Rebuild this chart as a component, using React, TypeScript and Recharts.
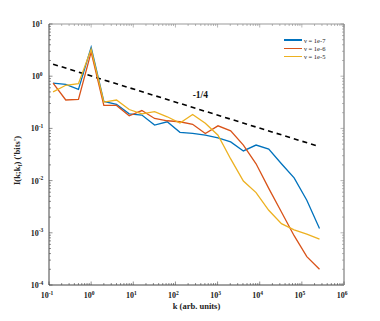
import React from 'react';
import { LineChart, Line, XAxis, YAxis, ReferenceDot } from 'recharts';

const kValues = [0.125, 0.25, 0.5, 1, 2, 4, 8, 16, 32, 64, 128, 256, 512, 1024, 2048, 4096, 8192, 16384, 32768, 65536, 131072, 262144];
const nu7 = [0.74, 0.7, 0.56, 3.6, 0.33, 0.29, 0.19, 0.18, 0.116, 0.134, 0.084, 0.08, 0.074, 0.066, 0.055, 0.037, 0.048, 0.04, 0.021, 0.0113, 0.0042, 0.00121];
const nu6 = [0.74, 0.35, 0.36, 2.9, 0.275, 0.275, 0.174, 0.22, 0.155, 0.14, 0.134, 0.12, 0.08, 0.112, 0.09, 0.048, 0.021, 0.0071, 0.0025, 0.00088, 0.00035, 0.0002];
const nu5 = [0.5, 0.67, 0.72, 3.3, 0.32, 0.35, 0.23, 0.19, 0.21, 0.167, 0.127, 0.185, 0.125, 0.074, 0.026, 0.0098, 0.0059, 0.0027, 0.0015, 0.00114, 0.00094, 0.00076];

// reference slope -1/4, two end points
const slopeK = [0.125, 262144];
const slopeI = [1.7, 0.0447];

const xDecades = [-1, 0, 1, 2, 3, 4, 5, 6];
const yDecades = [-4, -3, -2, -1, 0, 1];

const seriesNames = ['ν = 1e-7', 'ν = 1e-6', 'ν = 1e-5'];
const colors = ['#0072BD', '#D95319', '#EDB120'];

const FONT = '"Liberation Serif", "DejaVu Serif", serif';

const data = kValues.map((k, i) => ({ k, a: nu7[i], b: nu6[i], c: nu5[i] }));
const slopeData = slopeK.map((k, i) => ({ k, v: slopeI[i] }));

const logTicks = (decades: number[]) => {
  const out: number[] = [];
  decades.forEach((d, i) => {
    const base = Math.pow(10, d);
    out.push(base);
    if (i < decades.length - 1) {
      for (let m = 2; m <= 9; m++) out.push(m * base);
    }
  });
  return out;
};
const xTicks = logTicks(xDecades);
const yTicks = logTicks(yDecades);

const isMajor = (v: number) => Math.abs(Math.log10(v) - Math.round(Math.log10(v))) < 1e-6;

const BottomTick = (props: any) => {
  const { x, y, payload } = props;
  const major = isMajor(payload.value);
  const e = Math.round(Math.log10(payload.value));
  return (
    <g>
      <line x1={x} x2={x} y1={y} y2={y - (major ? 3.5 : 2)} stroke="#444" strokeWidth={0.6} />
      {major && (
        <text x={x - 2} y={y + 13} textAnchor="middle" fontFamily={FONT} fontSize={8} fontWeight="bold" fill="#222">
          10<tspan dy={-3.5} fontSize={5.5}>{e}</tspan>
        </text>
      )}
    </g>
  );
};

const TopTick = (props: any) => {
  const { x, y, payload } = props;
  const major = isMajor(payload.value);
  return <line x1={x} x2={x} y1={y} y2={y + (major ? 3.5 : 2)} stroke="#888" strokeWidth={0.6} />;
};

const LeftTick = (props: any) => {
  const { x, y, payload } = props;
  const major = isMajor(payload.value);
  const e = Math.round(Math.log10(payload.value));
  return (
    <g>
      <line x1={x} x2={x + (major ? 3.5 : 2)} y1={y} y2={y} stroke="#444" strokeWidth={0.6} />
      {major && (
        <text x={x - 12} y={y + 3} textAnchor="middle" fontFamily={FONT} fontSize={8} fontWeight="bold" fill="#222">
          10<tspan dy={-3.5} fontSize={5.5}>{e}</tspan>
        </text>
      )}
    </g>
  );
};

const RightTick = (props: any) => {
  const { x, y, payload } = props;
  const major = isMajor(payload.value);
  return <line x1={x} x2={x - (major ? 3.5 : 2)} y1={y} y2={y} stroke="#888" strokeWidth={0.6} />;
};

const YTitle = (props: any) => {
  const { viewBox } = props;
  const cx = viewBox.x + 11;
  const cy = viewBox.y + viewBox.height / 2 + 6;
  return (
    <text x={cx} y={cy} transform={`rotate(-90 ${cx} ${cy})`} textAnchor="middle" fontFamily={FONT} fontSize={8.5} fontWeight="bold" fill="#222">
      I(k;k<tspan dy={2} fontSize={6}>f</tspan><tspan dy={-2}>) ('bits')</tspan>
    </text>
  );
};

const XTitle = (props: any) => {
  const { viewBox } = props;
  const cx = viewBox.x + viewBox.width / 2;
  return (
    <text x={cx} y={viewBox.y + 24} textAnchor="middle" fontFamily={FONT} fontSize={8.5} fontWeight="bold" fill="#222">
      k  (arb. units)
    </text>
  );
};

const SlopeLabel = (props: any) => {
  const { viewBox } = props;
  return (
    <text x={viewBox.x} y={viewBox.y + 3} textAnchor="middle" fontFamily={FONT} fontSize={9.5} fontWeight="bold" fill="#111">
      -1/4
    </text>
  );
};

export default function App() {
  return (
    <div style={{ position: 'absolute', left: 0, top: 0, width: 380, height: 321, background: '#fff' }}>
      <LineChart width={380} height={321} data={data} margin={{ top: 20, right: 30, bottom: 6, left: 9 }}>
        <XAxis
          dataKey="k"
          type="number"
          scale="log"
          domain={[0.1, 1e6]}
          ticks={xTicks}
          interval={0}
          allowDataOverflow
          height={30}
          tickSize={0}
          tickMargin={0}
          tickLine={false}
          stroke="#444"
          tick={<BottomTick />}
          label={<XTitle />}
        />
        <XAxis
          xAxisId="top"
          orientation="top"
          dataKey="k"
          type="number"
          scale="log"
          domain={[0.1, 1e6]}
          ticks={xTicks}
          interval={0}
          allowDataOverflow
          height={4}
          tickSize={0}
          tickMargin={0}
          tickLine={false}
          stroke="#999"
          tick={<TopTick />}
        />
        <YAxis
          type="number"
          scale="log"
          domain={[1e-4, 10]}
          ticks={yTicks}
          interval={0}
          allowDataOverflow
          width={40}
          tickSize={0}
          tickMargin={0}
          tickLine={false}
          stroke="#444"
          tick={<LeftTick />}
          label={<YTitle />}
        />
        <YAxis
          yAxisId="right"
          orientation="right"
          type="number"
          scale="log"
          domain={[1e-4, 10]}
          ticks={yTicks}
          interval={0}
          allowDataOverflow
          width={6}
          tickSize={0}
          tickMargin={0}
          tickLine={false}
          stroke="#999"
          strokeWidth={1.5}
          tick={<RightTick />}
        />
        <Line data={slopeData} dataKey="v" stroke="#000" strokeWidth={1.6} strokeDasharray="5 4" dot={false} isAnimationActive={false} />
        <Line dataKey="a" stroke={colors[0]} strokeWidth={1.3} dot={false} isAnimationActive={false} />
        <Line dataKey="b" stroke={colors[1]} strokeWidth={1.3} dot={false} isAnimationActive={false} />
        <Line dataKey="c" stroke={colors[2]} strokeWidth={1.3} dot={false} isAnimationActive={false} />
        <ReferenceDot x={390} y={0.43} r={0} ifOverflow="visible" label={<SlopeLabel />} />
      </LineChart>
      <div style={{ position: 'absolute', left: 284, top: 36, fontFamily: FONT, fontSize: 6.5, color: '#222' }}>
        {seriesNames.map((name, i) => (
          <div key={name} style={{ display: 'flex', alignItems: 'center', height: 8.2 }}>
            <span style={{ display: 'inline-block', width: 18, height: 1.5, background: colors[i], marginRight: 2 }} />
            <span style={{ whiteSpace: 'nowrap' }}>{name}</span>
          </div>
        ))}
      </div>
    </div>
  );
}
